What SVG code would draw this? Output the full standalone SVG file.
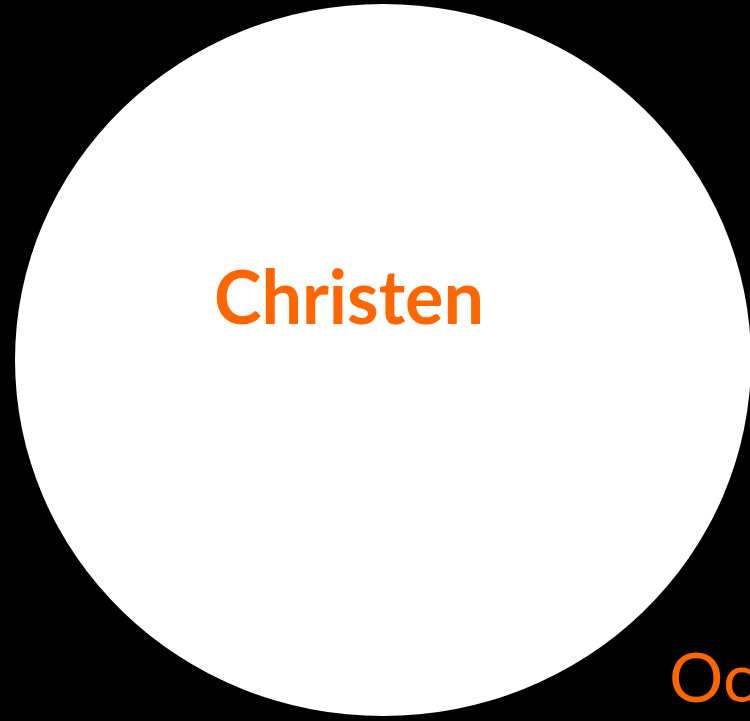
<svg xmlns="http://www.w3.org/2000/svg" width="750" height="721" viewBox="0 0 750 721">
  <style>
    .lbl { fill: #FF6600; font-family: Lato, "Open Sans", "Liberation Sans", sans-serif; }
    .bold { font-weight: 700; font-size: 74px; }
    .reg { font-weight: 400; font-size: 68px; }
  </style>
  <rect x="0" y="0" width="750" height="721" fill="#000000"/>
  <g id="circle">
    <ellipse cx="383" cy="360" rx="368" ry="356" fill="#FFFFFF"/>
    <text class="lbl bold" x="214" y="324" textLength="270" lengthAdjust="spacingAndGlyphs">Christen</text>
  </g>
  <g id="outer-label">
    <text class="lbl reg" x="669" y="702">Oc</text>
  </g>
</svg>
